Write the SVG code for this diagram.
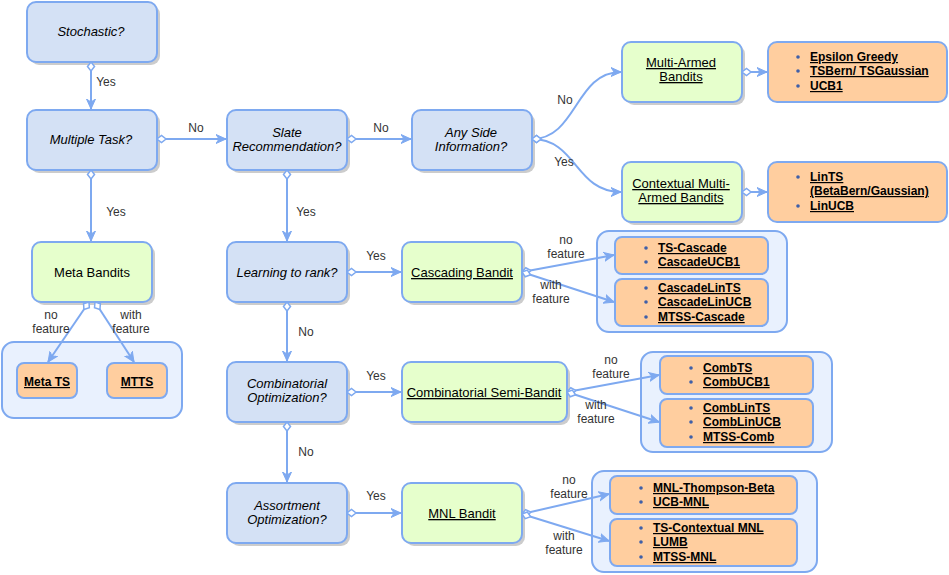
<svg xmlns="http://www.w3.org/2000/svg" width="949" height="575" viewBox="0 0 949 575">
<style>
text{font-family:"Liberation Sans",Arial,Helvetica,sans-serif;font-size:12px;fill:#000}
.n{font-size:13px}
.c{text-anchor:middle}
.it{font-style:italic}
.u{text-decoration:underline}
.b{font-weight:bold}
.lbl{fill:#333;text-anchor:middle}
.sh{fill:#000;opacity:.2}
.dec{fill:#D4E1F5;stroke:#7EA9F0;stroke-width:2}
.grn{fill:#E6FFCC;stroke:#7EA9F0;stroke-width:2}
.org{fill:#FFCE9F;stroke:#7EA9F0;stroke-width:2}
.grp{fill:#E9F1FE;stroke:#7EA9F0;stroke-width:2}
.bul{fill:#3F5FA8}
.e{fill:none;stroke:#7EA9F0;stroke-width:2;marker-start:url(#dia);marker-end:url(#arr)}
</style>
<defs>
<marker id="dia" markerWidth="12" markerHeight="10" refX="1" refY="5" orient="auto" markerUnits="userSpaceOnUse"><path d="M1,5 L5.5,1.5 L10,5 L5.5,8.5 Z" fill="#fff" stroke="#7EA9F0" stroke-width="1.5"/></marker>
<marker id="arr" markerWidth="12" markerHeight="12" refX="10" refY="6" orient="auto" markerUnits="userSpaceOnUse"><path d="M0,1.5 L10,6 L0,10.5 L3,6 Z" fill="#7EA9F0" stroke="#7EA9F0" stroke-width="1"/></marker>
</defs>
<rect width="949" height="575" fill="#fff"/>

<g id="stochastic">
<rect class="sh" x="30" y="5" width="130" height="60" rx="9"/>
<rect class="dec" x="27" y="2" width="130" height="60" rx="9"/>
<text class="n c it" x="91" y="36">Stochastic?</text>
</g>
<g id="multiple-task">
<rect class="sh" x="30" y="113" width="130" height="60" rx="9"/>
<rect class="dec" x="27" y="110" width="130" height="60" rx="9"/>
<text class="n c it" x="91" y="144">Multiple Task?</text>
</g>
<g id="slate">
<rect class="sh" x="230" y="113" width="120" height="60" rx="9"/>
<rect class="dec" x="227" y="110" width="120" height="60" rx="9"/>
<text class="n c it" x="287" y="137">Slate</text>
<text class="n c it" x="287" y="151">Recommendation?</text>
</g>
<g id="side-info">
<rect class="sh" x="415" y="113" width="120" height="60" rx="9"/>
<rect class="dec" x="412" y="110" width="120" height="60" rx="9"/>
<text class="n c it" x="471" y="137">Any Side</text>
<text class="n c it" x="471" y="151">Information?</text>
</g>
<g id="learning-to-rank">
<rect class="sh" x="230" y="245" width="120" height="60" rx="9"/>
<rect class="dec" x="227" y="242" width="120" height="60" rx="9"/>
<text class="n c it" x="287" y="277">Learning to rank?</text>
</g>
<g id="combinatorial-opt">
<rect class="sh" x="230" y="365" width="120" height="60" rx="9"/>
<rect class="dec" x="227" y="362" width="120" height="60" rx="9"/>
<text class="n c it" x="287" y="388">Combinatorial</text>
<text class="n c it" x="287" y="402">Optimization?</text>
</g>
<g id="assortment-opt">
<rect class="sh" x="230" y="486" width="120" height="60" rx="9"/>
<rect class="dec" x="227" y="483" width="120" height="60" rx="9"/>
<text class="n c it" x="287" y="510">Assortment</text>
<text class="n c it" x="287" y="524">Optimization?</text>
</g>

<g id="meta-bandits">
<rect class="sh" x="35" y="245" width="120" height="60" rx="9"/>
<rect class="grn" x="32" y="242" width="120" height="60" rx="9"/>
<text class="n c" x="92" y="277">Meta Bandits</text>
</g>
<g id="cascading-bandit">
<rect class="sh" x="405" y="245" width="120" height="60" rx="9"/>
<rect class="grn" x="402" y="242" width="120" height="60" rx="9"/>
<text class="n c u" x="462" y="277">Cascading Bandit</text>
</g>
<g id="comb-semi-bandit">
<rect class="sh" x="405" y="365" width="165" height="60" rx="9"/>
<rect class="grn" x="402" y="362" width="165" height="60" rx="9"/>
<text class="n c u" x="484" y="397">Combinatorial Semi-Bandit</text>
</g>
<g id="mnl-bandit">
<rect class="sh" x="405" y="486" width="120" height="60" rx="9"/>
<rect class="grn" x="402" y="483" width="120" height="60" rx="9"/>
<text class="n c u" x="462" y="518">MNL Bandit</text>
</g>
<g id="multi-armed">
<rect class="sh" x="625" y="45" width="120" height="60" rx="9"/>
<rect class="grn" x="622" y="42" width="120" height="60" rx="9"/>
<text class="n c u" x="681" y="67">Multi-Armed</text>
<text class="n c u" x="681" y="81">Bandits</text>
</g>
<g id="contextual-mab">
<rect class="sh" x="625" y="165" width="120" height="60" rx="9"/>
<rect class="grn" x="622" y="162" width="120" height="60" rx="9"/>
<text class="n c u" x="681" y="188">Contextual Multi-</text>
<text class="n c u" x="681" y="202">Armed Bandits</text>
</g>

<g id="mab-list">
<rect class="org" x="768" y="42" width="179" height="60" rx="9"/>
<circle class="bul" cx="798" cy="57" r="1.8"/>
<circle class="bul" cx="798" cy="71" r="1.8"/>
<circle class="bul" cx="798" cy="86" r="1.8"/>
<text class="b u" x="810" y="61">Epsilon Greedy</text>
<text class="b u" x="810" y="75">TSBern/ TSGaussian</text>
<text class="b u" x="810" y="90">UCB1</text>
</g>
<g id="cmab-list">
<rect class="org" x="768" y="162" width="179" height="60" rx="9"/>
<circle class="bul" cx="798" cy="177" r="1.8"/>
<circle class="bul" cx="798" cy="206" r="1.8"/>
<text class="b u" x="810" y="181">LinTS</text>
<text class="b u" x="810" y="195">(BetaBern/Gaussian)</text>
<text class="b u" x="810" y="210">LinUCB</text>
</g>

<g id="meta-group">
<rect class="grp" x="2" y="342" width="180" height="76" rx="12"/>
<rect class="org" x="17" y="363" width="60" height="35" rx="7"/>
<rect class="org" x="107" y="363" width="60" height="35" rx="7"/>
<text class="c b u" x="47" y="386">Meta TS</text>
<text class="c b u" x="137" y="386">MTTS</text>
</g>

<g id="cascade-group">
<rect class="grp" x="597" y="231" width="190" height="101" rx="12"/>
<rect class="org" x="615" y="237" width="153" height="37" rx="7"/>
<rect class="org" x="615" y="279" width="153" height="47" rx="7"/>
<circle class="bul" cx="646" cy="248" r="1.8"/>
<circle class="bul" cx="646" cy="262" r="1.8"/>
<circle class="bul" cx="646" cy="288" r="1.8"/>
<circle class="bul" cx="646" cy="302" r="1.8"/>
<circle class="bul" cx="646" cy="317" r="1.8"/>
<text class="b u" x="658" y="252">TS-Cascade</text>
<text class="b u" x="658" y="266">CascadeUCB1</text>
<text class="b u" x="658" y="292">CascadeLinTS</text>
<text class="b u" x="658" y="306">CascadeLinUCB</text>
<text class="b u" x="658" y="321">MTSS-Cascade</text>
</g>

<g id="comb-group">
<rect class="grp" x="641" y="352" width="191" height="100" rx="12"/>
<rect class="org" x="660" y="356" width="153" height="38" rx="7"/>
<rect class="org" x="660" y="399" width="153" height="48" rx="7"/>
<circle class="bul" cx="691" cy="368" r="1.8"/>
<circle class="bul" cx="691" cy="382" r="1.8"/>
<circle class="bul" cx="691" cy="408" r="1.8"/>
<circle class="bul" cx="691" cy="422" r="1.8"/>
<circle class="bul" cx="691" cy="437" r="1.8"/>
<text class="b u" x="703" y="372">CombTS</text>
<text class="b u" x="703" y="386">CombUCB1</text>
<text class="b u" x="703" y="412">CombLinTS</text>
<text class="b u" x="703" y="426">CombLinUCB</text>
<text class="b u" x="703" y="441">MTSS-Comb</text>
</g>

<g id="mnl-group">
<rect class="grp" x="592" y="471" width="225" height="101" rx="12"/>
<rect class="org" x="610" y="476" width="187" height="38" rx="7"/>
<rect class="org" x="610" y="519" width="187" height="47" rx="7"/>
<circle class="bul" cx="641" cy="488" r="1.8"/>
<circle class="bul" cx="641" cy="502" r="1.8"/>
<circle class="bul" cx="641" cy="528" r="1.8"/>
<circle class="bul" cx="641" cy="542" r="1.8"/>
<circle class="bul" cx="641" cy="557" r="1.8"/>
<text class="b u" x="653" y="492">MNL-Thompson-Beta</text>
<text class="b u" x="653" y="506">UCB-MNL</text>
<text class="b u" x="653" y="532">TS-Contextual MNL</text>
<text class="b u" x="653" y="546">LUMB</text>
<text class="b u" x="653" y="561">MTSS-MNL</text>
</g>

<g id="connectors">
<path class="e" d="M91,62 L91,109"/>
<path class="e" d="M157,139 L226,139"/>
<path class="e" d="M91,170 L91,241"/>
<path class="e" d="M347,139 L411,139"/>
<path class="e" d="M287,170 L287,241"/>
<path class="e" d="M532,139 C577,139 575,72 621,72"/>
<path class="e" d="M532,139 C577,139 575,192 621,192"/>
<path class="e" d="M742,72 L767,72"/>
<path class="e" d="M742,192 L767,192"/>
<path class="e" d="M89,302 L48,362"/>
<path class="e" d="M95,302 L134,362"/>
<path class="e" d="M347,272 L401,272"/>
<path class="e" d="M287,302 L287,361"/>
<path class="e" d="M522,272 L614,255"/>
<path class="e" d="M522,272 L614,302"/>
<path class="e" d="M347,392 L401,392"/>
<path class="e" d="M287,422 L287,482"/>
<path class="e" d="M567,392 L659,375"/>
<path class="e" d="M567,392 L659,422"/>
<path class="e" d="M347,513 L401,513"/>
<path class="e" d="M522,514 L609,494"/>
<path class="e" d="M522,514 L609,541"/>
<text class="lbl" x="106" y="86">Yes</text>
<text class="lbl" x="196" y="132">No</text>
<text class="lbl" x="116" y="216">Yes</text>
<text class="lbl" x="381" y="132">No</text>
<text class="lbl" x="306" y="216">Yes</text>
<text class="lbl" x="565" y="104">No</text>
<text class="lbl" x="564" y="166">Yes</text>
<text class="lbl" x="51" y="319">no</text>
<text class="lbl" x="51" y="333">feature</text>
<text class="lbl" x="131" y="319">with</text>
<text class="lbl" x="131" y="333">feature</text>
<text class="lbl" x="376" y="260">Yes</text>
<text class="lbl" x="306" y="336">No</text>
<text class="lbl" x="566" y="244">no</text>
<text class="lbl" x="566" y="258">feature</text>
<text class="lbl" x="551" y="289">with</text>
<text class="lbl" x="551" y="303">feature</text>
<text class="lbl" x="376" y="380">Yes</text>
<text class="lbl" x="306" y="456">No</text>
<text class="lbl" x="611" y="364">no</text>
<text class="lbl" x="611" y="378">feature</text>
<text class="lbl" x="596" y="409">with</text>
<text class="lbl" x="596" y="423">feature</text>
<text class="lbl" x="376" y="500">Yes</text>
<text class="lbl" x="569" y="484">no</text>
<text class="lbl" x="569" y="498">feature</text>
<text class="lbl" x="564" y="540">with</text>
<text class="lbl" x="564" y="554">feature</text>
</g>
</svg>
